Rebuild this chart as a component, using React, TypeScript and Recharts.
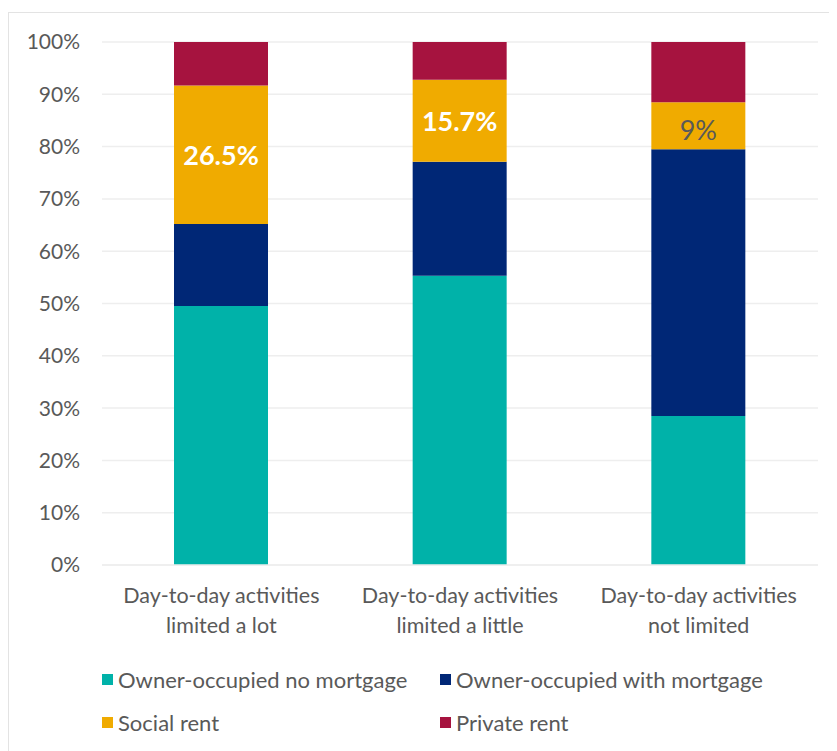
import { BarChart, Bar, XAxis, YAxis, CartesianGrid, LabelList } from 'recharts';

const categories = [
  'Day-to-day activities|limited a lot',
  'Day-to-day activities|limited a little',
  'Day-to-day activities|not limited',
];
const noMortgage = [49.5, 55.3, 28.5];
const withMortgage = [15.7, 21.8, 51.0];
const socialRent = [26.5, 15.7, 9.0];
const privateRent = [8.3, 7.2, 11.5];
const yTicks = [0, 10, 20, 30, 40, 50, 60, 70, 80, 90, 100];

const series = [
  { key: 'noMortgage', name: 'Owner-occupied no mortgage', color: '#00B2A9' },
  { key: 'withMortgage', name: 'Owner-occupied with mortgage', color: '#002776' },
  { key: 'socialRent', name: 'Social rent', color: '#F0AB00' },
  { key: 'privateRent', name: 'Private rent', color: '#A6133F' },
];

const data = categories.map((c, i) => ({
  cat: c,
  noMortgage: noMortgage[i],
  withMortgage: withMortgage[i],
  socialRent: socialRent[i],
  privateRent: privateRent[i],
}));

const FONT = 'Lato, "Open Sans", sans-serif';

function CatTick(props: any) {
  const { x, y, payload } = props;
  const [l1, l2] = String(payload.value).split('|');
  return (
    <text x={x} y={y} textAnchor="middle" fill="#595959" fontSize={21.5} fontFamily={FONT}>
      <tspan x={x} dy={30}>{l1}</tspan>
      <tspan x={x} dy={30}>{l2}</tspan>
    </text>
  );
}

function SocialLabel(props: any) {
  const { x, y, width, height, value, index } = props;
  const big = value > 12;
  const txt = Number.isInteger(value) ? `${value}%` : `${Number(value).toFixed(1)}%`;
  return (
    <text
      x={x + width / 2}
      y={y + height / 2 + (index === 2 ? 4 : 0)}
      textAnchor="middle"
      dominantBaseline="central"
      fill={big ? '#ffffff' : '#595959'}
      fontWeight={big ? 700 : 400}
      fontSize={27}
      fontFamily={FONT}
    >
      {txt}
    </text>
  );
}

export default function App() {
  return (
    <div
      style={{
        position: 'relative',
        marginTop: 4,
        width: 827,
        height: 745,
        border: '1px solid #e3e3e3',
        fontFamily: FONT,
      }}
    >
      <BarChart
        width={827}
        height={737}
        data={data}
        margin={{ top: 29, right: 18, left: 0, bottom: 105 }}
      >
        <CartesianGrid vertical={false} stroke="#eeeeee" strokeWidth={1.5} />
        <XAxis
          dataKey="cat"
          tick={<CatTick />}
          tickLine={false}
          axisLine={{ stroke: '#eeeeee', strokeWidth: 1.5 }}
          height={80}
          interval={0}
        />
        <YAxis
          width={93}
          domain={[0, 100]}
          ticks={yTicks}
          tickFormatter={(v) => `${v}%`}
          tickLine={false}
          axisLine={false}
          tickMargin={16}
          tick={{ fill: '#595959', fontSize: 21, fontFamily: FONT }}
        />
        {series.map((s) => (
          <Bar
            key={s.key}
            dataKey={s.key}
            stackId="a"
            fill={s.color}
            barSize={94}
            isAnimationActive={false}
          >
            {s.key === 'socialRent' && <LabelList dataKey="socialRent" content={<SocialLabel />} />}
          </Bar>
        ))}
      </BarChart>
      {series.map((s, i) => (
        <div
          key={s.key}
          style={{
            position: 'absolute',
            left: i % 2 === 0 ? 93 : 431,
            top: (i < 2 ? 666 : 709) - 13,
            display: 'flex',
            alignItems: 'center',
            height: 26,
            fontSize: 22,
            color: '#595959',
            whiteSpace: 'nowrap',
          }}
        >
          <span style={{ display: 'inline-block', width: 11, height: 11, background: s.color, marginRight: 5 }} />
          {s.name}
        </div>
      ))}
    </div>
  );
}
